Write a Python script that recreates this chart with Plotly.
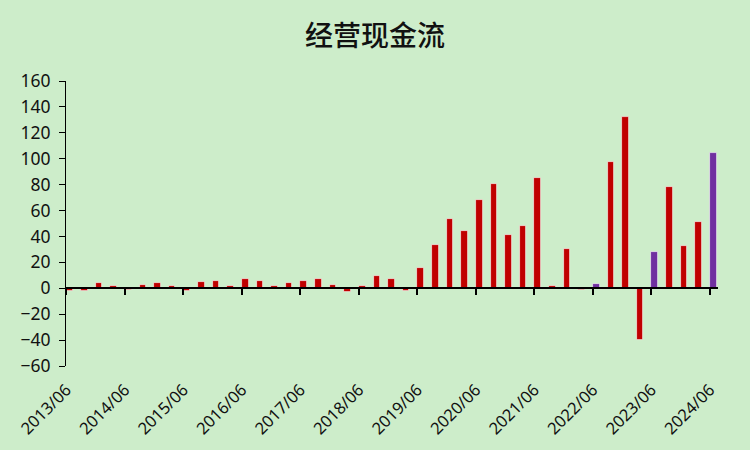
import plotly.graph_objects as go

quarters = [
    "2013/06", "2013/09", "2013/12", "2014/03",
    "2014/06", "2014/09", "2014/12", "2015/03",
    "2015/06", "2015/09", "2015/12", "2016/03",
    "2016/06", "2016/09", "2016/12", "2017/03",
    "2017/06", "2017/09", "2017/12", "2018/03",
    "2018/06", "2018/09", "2018/12", "2019/03",
    "2019/06", "2019/09", "2019/12", "2020/03",
    "2020/06", "2020/09", "2020/12", "2021/03",
    "2021/06", "2021/09", "2021/12", "2022/03",
    "2022/06", "2022/09", "2022/12", "2023/03",
    "2023/06", "2023/09", "2023/12", "2024/03",
    "2024/06",
]

cash_flow = [
    -1.8, -1.8, 3.9, 1.6,
    -1.4, 2.4, 3.9, 1.6,
    -2.4, 4.7, 5.5, 1.6,
    6.8, 5.3, 1.6, 3.7,
    5.3, 6.8, 2.9, -2.8,
    1.4, 9.4, 6.8, -2.4,
    15.4, 33.2, 53.2, 44.2,
    67.8, 80.3, 40.8, 47.8,
    84.8, 1.6, 30.2, -1.4,
    3.3, 97.2, 132.2, -39.6,
    28.3, 77.8, 32.3, 50.8,
    104.2,
]

tick_labels = [
    "2013/06", "2014/06", "2015/06", "2016/06", "2017/06", "2018/06",
    "2019/06", "2020/06", "2021/06", "2022/06", "2023/06", "2024/06",
]

highlighted = ["2022/06", "2023/06", "2024/06"]

RED = "#C00000"
PURPLE = "#7030A0"
BG = "#CDEDCA"
FONT = "Noto Sans, Noto Sans CJK SC, sans-serif"

colors = [PURPLE if q in highlighted else RED for q in quarters]

fig = go.Figure()
fig.add_bar(
    x=quarters, y=cash_flow, xaxis="x", yaxis="y",
    marker=dict(color=colors, line=dict(color="rgba(255,255,255,0.75)", width=0.8)),
    width=0.45, offset=0, showlegend=False,
)
# invisible copy to carry the bottom label axis
fig.add_bar(
    x=quarters, y=cash_flow, xaxis="x2", yaxis="y",
    marker=dict(color="rgba(0,0,0,0)", line=dict(width=0)), width=0.45, offset=0,
    showlegend=False, hoverinfo="skip",
)

yr = [-60, 160]
zero_pos = (0 - yr[0]) / (yr[1] - yr[0])

fig.update_layout(
    width=750, height=450,
    margin=dict(l=66, r=32, t=81, b=84),
    paper_bgcolor=BG, plot_bgcolor=BG,
    font=dict(family=FONT, color="#111111"),
    title=dict(
        text="经营现金流", x=0.5, xanchor="center", y=0.92, yanchor="middle",
        font=dict(family="Noto Sans CJK SC", size=28, color="#111111", weight=500),
    ),
    bargap=0,
    xaxis=dict(
        type="category", range=[-0.03, 44.55],
        anchor="free", position=zero_pos,
        showline=True, linecolor="black", linewidth=2,
        ticks="outside", ticklen=6, tickwidth=2, tickcolor="black",
        tickmode="array", tickvals=tick_labels,
        showticklabels=False, showgrid=False, zeroline=False,
    ),
    xaxis2=dict(
        type="category", matches="x", overlaying="x",
        anchor="free", position=0, side="bottom",
        tickmode="array", tickvals=tick_labels, ticktext=tick_labels,
        tickangle=-45, tickfont=dict(size=16.5, color="#111111"),
        ticks="", ticklabelstandoff=10,
        showline=False, showgrid=False, zeroline=False,
    ),
    yaxis=dict(
        range=yr, dtick=20, tick0=0,
        showline=True, linecolor="black", linewidth=1,
        ticks="outside", ticklen=6, tickwidth=1, tickcolor="black",
        tickfont=dict(size=17.5, color="#111111"), ticklabelstandoff=5,
        showgrid=False, zeroline=False,
    ),
)

fig.write_html(
    "out.html",
    config={"displayModeBar": False},
    post_script="document.body.style.margin='0';",
)
